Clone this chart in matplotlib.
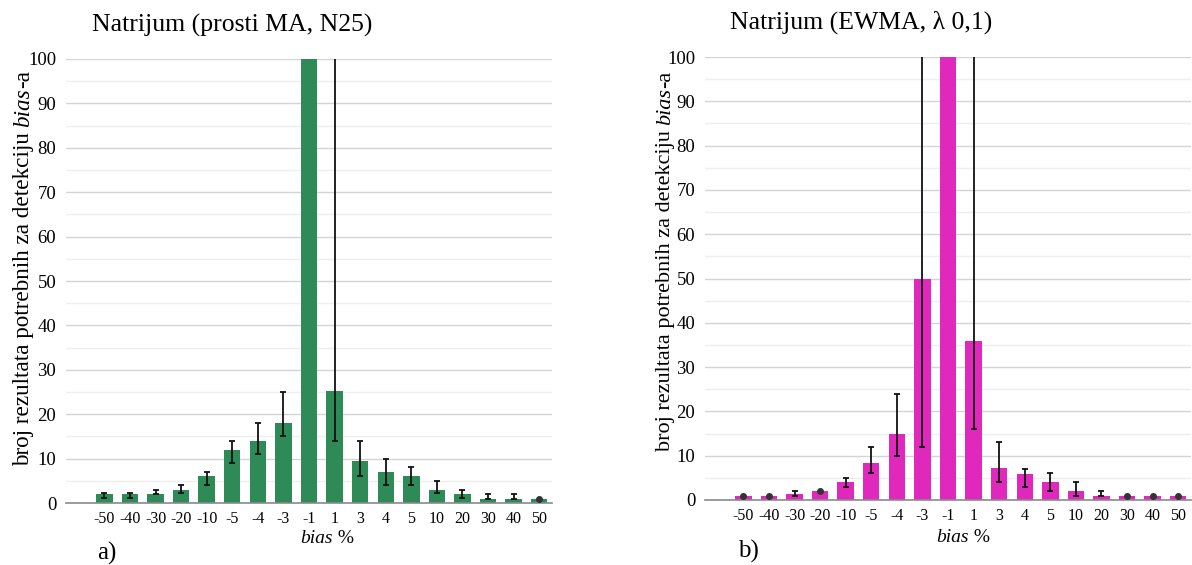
import numpy as np
import matplotlib
matplotlib.use("Agg")
import matplotlib.pyplot as plt

plt.rcParams['font.family'] = 'Liberation Serif'

labels = ["-50", "-40", "-30", "-20", "-10", "-5", "-4", "-3", "-1",
          "1", "3", "4", "5", "10", "20", "30", "40", "50"]

# prosti MA, N25
ma_val = [2, 2, 2, 3, 6, 12, 14, 18, 100, 25.3, 9.4, 7, 6, 3, 2, 1, 1, 1]
ma_lo = [1.1, 1.1, 2, 2.3, 4, 9, 11, 15, 100, 14, 6, 4, 4, 2.2, 1.1, 0.8, 0.8, 1]
ma_hi = [2.2, 2.2, 3, 4, 7, 14, 18, 25, 100, 150, 14, 10, 8, 5, 3, 2, 2, 1]

# EWMA, lambda 0,1
ew_val = [0.8, 0.8, 1.4, 2, 4, 8.4, 15, 50, 100, 36, 7.3, 5.8, 4, 2, 0.8, 0.8, 0.8, 0.8]
ew_lo = [0.8, 0.8, 1, 2, 3, 6, 10, 12, 100, 16, 4, 3, 2, 1, 0.8, 0.8, 0.8, 0.8]
ew_hi = [0.8, 0.8, 2, 2, 5, 12, 24, 150, 100, 150, 13, 7, 6, 4, 2, 0.8, 0.8, 0.8]

ylab_parts = [("broj rezultata potrebnih za detekciju ", "normal"), ("bias", "italic"), ("-a", "normal")]
xlab_parts = [("bias", "italic"), (" %", "normal")]

W, H = 1192, 565
fig = plt.figure(figsize=(W / 100, H / 100), dpi=100)
rend = fig.canvas.get_renderer()


def rich(xc, yc, parts, size, vertical=False):
    # mixed roman/italic label, xc/yc in pixels from top-left, baseline position
    texts, widths = [], []
    for s, st in parts:
        t = fig.text(0, 0, s, fontsize=size, style=st, ha='left', va='baseline')
        widths.append(t.get_window_extent(rend).width)
        texts.append(t)
    pos = -sum(widths) / 2
    for t, w in zip(texts, widths):
        if vertical:
            t.set_rotation(90)
            t.set_rotation_mode('anchor')
            t.set_position((xc / W, 1 - (yc - pos) / H))
        else:
            t.set_position(((xc + pos) / W, 1 - yc / H))
        pos += w


def panel(rect, vals, lo, hi, color, title, titlepos, tag, tagpos, ylab_pos, ylab_size, xlab_pos):
    ax = fig.add_axes([rect[0] / W, (H - rect[3]) / H, rect[2] / W, (rect[3] - rect[1]) / H])
    x = np.arange(len(vals))
    vals = np.array(vals, float)
    lo = np.array(lo, float)
    hi = np.array(hi, float)
    ax.bar(x, vals, width=0.64, color=color, zorder=2)
    err = np.vstack([vals - lo, hi - vals])
    has = (err.sum(axis=0) > 0)
    ax.errorbar(x[has], vals[has], yerr=err[:, has], fmt='none', ecolor='#111111',
                elinewidth=1.3, capsize=2, capthick=1.3, zorder=3)
    dot = (~has) & (vals < 100)
    ax.plot(x[dot], vals[dot], 'o', color='#333333', markersize=4, zorder=4)
    ax.set_xlim(-1.5, len(vals) - 0.5)
    ax.set_ylim(0, 100)
    ax.set_yticks(np.arange(0, 101, 10))
    ax.set_yticks(np.arange(5, 100, 10), minor=True)
    ax.grid(axis='y', which='major', color='#d4d4d4', linewidth=1, zorder=0)
    ax.grid(axis='y', which='minor', color='#efefef', linewidth=1, zorder=0)
    ax.set_axisbelow(True)
    ax.set_xticks(x)
    ax.set_xticklabels(labels, fontsize=11.5)
    ax.tick_params(axis='x', length=0, pad=6)
    ax.tick_params(axis='y', which='both', length=0, pad=7, labelsize=13.5)
    for s in ['top', 'right', 'left']:
        ax.spines[s].set_visible(False)
    ax.spines['bottom'].set_color('#8a8a8a')
    ax.spines['bottom'].set_linewidth(1.2)
    rich(xlab_pos[0], xlab_pos[1], xlab_parts, 14)
    rich(ylab_pos[0], ylab_pos[1], ylab_parts, ylab_size, vertical=True)
    fig.text(titlepos[0] / W, 1 - titlepos[1] / H, title, fontsize=18.5,
             ha='center', va='center')
    fig.text(tagpos[0] / W, 1 - tagpos[1] / H, tag, fontsize=18, ha='center', va='center')
    return ax


panel((66, 59, 486, 503), ma_val, ma_lo, ma_hi, '#2e8b57',
      'Natrijum (prosti MA, N25)', (232, 25), 'a)', (107, 553), (29, 268), 16.7, (327, 543))
panel((705, 57, 486, 500), ew_val, ew_lo, ew_hi, '#e028bc',
      'Natrijum (EWMA, λ 0,1)', (861, 22), 'b)', (748, 551), (670, 261), 16, (963, 542))

fig.savefig('out.png', dpi=100)
